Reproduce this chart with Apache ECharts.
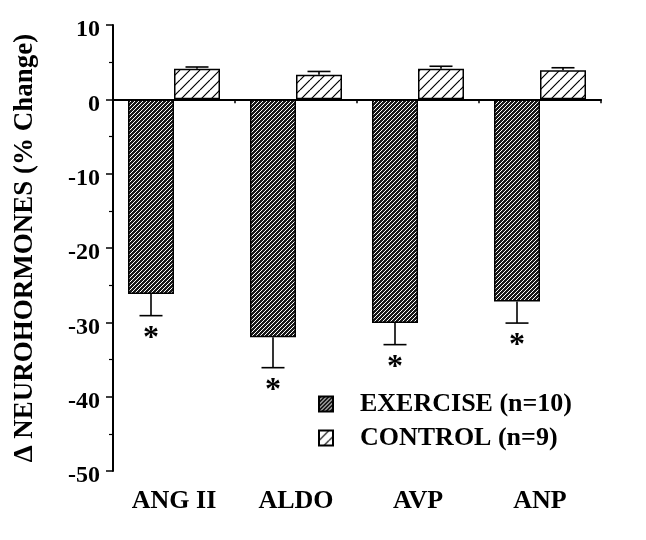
<!DOCTYPE html>
<html>
<head>
<meta charset="utf-8">
<script src="https://cdn.jsdelivr.net/npm/echarts@6/dist/echarts.min.js"></script>
<style>
html,body{margin:0;padding:0;background:#fff;}
#chart{width:646px;height:540px;}
</style>
</head>
<body>
<div id="chart"></div>
<script>
// ---- data ----
const categories = ['ANG II', 'ALDO', 'AVP', 'ANP'];
const exerciseValues = [-26.2, -32.0, -30.1, -27.2];
const exerciseErrors = [2.9, 4.1, 2.9, 2.9];
const controlValues = [4.1, 3.3, 4.1, 3.9];
const controlErrors = [0.25, 0.45, 0.35, 0.35];
const seriesNames = ['EXERCISE (n=10)', 'CONTROL (n=9)'];
const yMin = -50, yMax = 10, yInterval = 10;

const FONT = "'Liberation Serif', 'Times New Roman', serif";

function hatch(size, bg, fg, lw) {
  const c = document.createElement('canvas');
  c.width = size; c.height = size;
  const g = c.getContext('2d');
  g.fillStyle = bg; g.fillRect(0, 0, size, size);
  g.strokeStyle = fg; g.lineWidth = lw;
  g.beginPath();
  [-size, 0, size].forEach(k => { g.moveTo(k, size); g.lineTo(k + size, 0); });
  g.stroke();
  return c;
}
const densePattern = { image: hatch(4, '#1a1a1a', '#ffffff', 1.0), repeat: 'repeat' };
const sparsePattern = { image: hatch(10, '#ffffff', '#000000', 1.2), repeat: 'repeat' };

const BAR_W = 46;

function errorRenderer(offset, sign, star) {
  return function (params, api) {
    const i = api.value(0), v = api.value(1), e = api.value(2);
    const p0 = api.coord([i, v]);
    const p1 = api.coord([i, v + sign * e]);
    const x = p0[0] + offset;
    const style = { stroke: '#000', lineWidth: 1.6 };
    const children = [
      { type: 'line', shape: { x1: x, y1: p0[1], x2: x, y2: p1[1] }, style: style },
      { type: 'line', shape: { x1: x - 11.5, y1: p1[1], x2: x + 11.5, y2: p1[1] }, style: style }
    ];
    if (star) {
      children.push({
        type: 'text',
        style: {
          text: '*', x: x, y: p1[1] + 23,
          align: 'center', verticalAlign: 'middle',
          font: 'bold 32px ' + FONT, fill: '#000'
        }
      });
    }
    return { type: 'group', children: children };
  };
}

const chart = echarts.init(document.getElementById('chart'), null, { renderer: 'canvas' });
chart.setOption({
  animation: false,
  backgroundColor: '#fff',
  grid: { left: 113, right: 45, top: 25, bottom: 69, containLabel: false, outerBoundsMode: 'none' },
  legend: {
    orient: 'vertical',
    left: 318, top: 391, padding: 0,
    itemWidth: 14, itemHeight: 15, itemGap: 8,
    icon: 'rect',
    data: seriesNames,
    textStyle: { fontFamily: FONT, fontWeight: 'bold', fontSize: 26, color: '#000', padding: [0, 0, 0, 22] }
  },
  xAxis: {
    type: 'category',
    data: categories,
    axisLine: { lineStyle: { color: '#000', width: 2 } },
    axisTick: { show: true, alignWithLabel: false, length: 4, lineStyle: { color: '#000', width: 1.5 } },
    axisLabel: { fontFamily: FONT, fontWeight: 'bold', fontSize: 26, color: '#000', margin: 17 }
  },
  yAxis: {
    type: 'value',
    min: yMin, max: yMax, interval: yInterval,
    name: 'Δ NEUROHORMONES (% Change)',
    nameLocation: 'middle', nameRotate: 90, nameGap: 74,
    nameTextStyle: { fontFamily: FONT, fontWeight: 'bold', fontSize: 27, color: '#000' },
    axisLine: { show: true, lineStyle: { color: '#000', width: 2 } },
    axisTick: { show: true, length: 7, lineStyle: { color: '#000', width: 1.5 } },
    minorTick: { show: true, splitNumber: 2, length: 4, lineStyle: { color: '#000', width: 1.2 } },
    splitLine: { show: false },
    axisLabel: {
      color: '#000', margin: 13,
      formatter: '{a|{value}}',
      rich: { a: { fontFamily: FONT, fontWeight: 'bold', fontSize: 24, color: '#000', padding: [10, 0, 0, 0] } }
    }
  },
  series: [
    {
      name: seriesNames[0], type: 'bar', data: exerciseValues,
      barWidth: BAR_W, barGap: '0%',
      itemStyle: { color: densePattern, borderColor: '#000', borderWidth: 1.5 }
    },
    {
      name: seriesNames[1], type: 'bar', data: controlValues,
      barWidth: BAR_W, barGap: '0%',
      itemStyle: { color: sparsePattern, borderColor: '#000', borderWidth: 1.5 },
      markLine: {
        silent: true, symbol: 'none', label: { show: false },
        lineStyle: { color: '#000', width: 1.8, type: 'solid' },
        data: [{ yAxis: 0 }]
      }
    },
    {
      type: 'custom', name: 'exErr',
      renderItem: errorRenderer(-BAR_W / 2, -1, true),
      data: exerciseValues.map((v, i) => [i, v, exerciseErrors[i]]),
      z: 5
    },
    {
      type: 'custom', name: 'ctErr',
      renderItem: errorRenderer(BAR_W / 2, 1, false),
      data: controlValues.map((v, i) => [i, v, controlErrors[i]]),
      z: 5
    }
  ]
});
</script>
</body>
</html>
